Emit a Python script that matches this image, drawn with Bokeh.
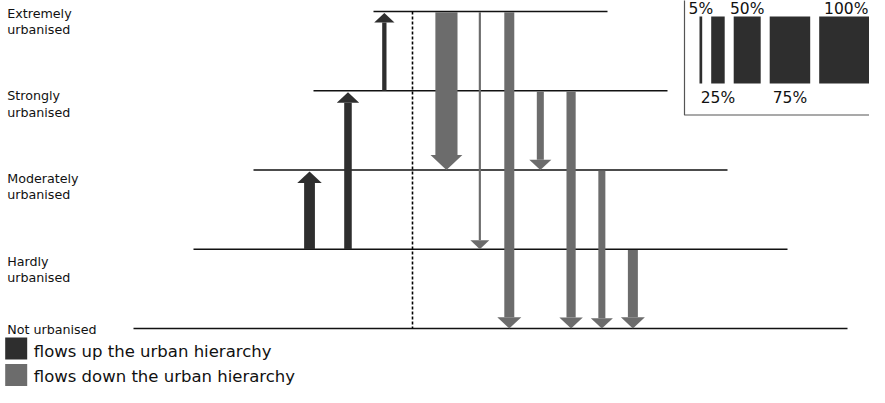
from bokeh.plotting import figure
from bokeh.models import ColumnDataSource, Range1d
from bokeh.embed import file_html
from bokeh.resources import INLINE
from bokeh.core.properties import value

# ---------------- data ----------------
levels = ["Not urbanised", "Hardly urbanised", "Moderately urbanised",
          "Strongly urbanised", "Extremely urbanised"]
# flows up the hierarchy (listed from the divider outward): origin, destination, share %
up_from = [3, 1, 1]
up_to = [4, 3, 2]
up_pct = [8, 14, 20]
# flows down the hierarchy (listed from the divider outward)
down_from = [4, 4, 4, 3, 3, 2, 1]
down_to = [2, 1, 0, 2, 0, 0, 0]
down_pct = [41, 4, 18.5, 13, 17, 13, 18.5]
# width key
scale_pct = [5, 25, 50, 75, 100]
scale_labels = ["5%", "25%", "50%", "75%", "100%"]
legend_labels = ["flows up the urban hierarchy", "flows down the urban hierarchy"]

# ---------------- layout / style ----------------
W, H = 869, 387
UP_COL = "#2e2e2e"
DOWN_COL = "#6c6c6c"
FONT = value("DejaVu Sans")
PX_PER_PCT = 0.54
LEVEL_Y0, LEVEL_STEP = 328.0, 79.25
CENTER_X, HALF_TOP, HALF_STEP = 490.0, 117.0, 60.0
DIVIDER_X = 412.0
GAP_DIV, GAP_UP, GAP_DOWN = 18.0, 15.0, 8.0
BASE_FIX = 0.35  # em correction for the renderer's alphabetic baseline


def level_y(k):
    return LEVEL_Y0 - LEVEL_STEP * k


def head_w(shaft):
    return 0.65 * shaft + 17.5


def fix(ys, size):
    return [y - BASE_FIX * size for y in ys]


p = figure(width=W, height=H, x_range=Range1d(0, W), y_range=Range1d(H, 0),
           output_backend="svg", toolbar_location=None, min_border=0,
           x_axis_location=None, y_axis_location=None)
p.xgrid.grid_line_color = None
p.ygrid.grid_line_color = None
p.outline_line_color = None
p.background_fill_color = "white"
p.border_fill_color = "white"

# level lines
n = len(levels)
lx0, lx1, ly = [], [], []
for k in range(n):
    half = HALF_TOP + HALF_STEP * (n - 1 - k)
    lx0.append(CENTER_X - half)
    lx1.append(CENTER_X + half)
    ly.append(level_y(k))
p.segment(x0=lx0, x1=lx1, y0=ly, y1=ly, line_color="#111111", line_width=1.7)

# divider
p.segment(x0=[DIVIDER_X], x1=[DIVIDER_X], y0=[level_y(n - 1)], y1=[level_y(0)],
          line_color="black", line_width=1.6, line_dash="3 2")


def build_arrows(frm, to, pct, direction):
    left, right, top, bottom, xs, ys = [], [], [], [], [], []
    if direction == "up":
        pos = DIVIDER_X - GAP_DIV
    else:
        pos = DIVIDER_X + GAP_DIV
    for a, b, v in zip(frm, to, pct):
        sw = v * PX_PER_PCT
        hw = head_w(sw)
        hh = hw * 0.47
        if direction == "up":
            c = pos - hw / 2
            pos = c - hw / 2 - GAP_UP
            apex = level_y(b) + 1.5
            base = apex + hh
            s_top, s_bot = base, level_y(a)
        else:
            c = pos + hw / 2
            pos = c + hw / 2 + GAP_DOWN
            apex = level_y(b)
            base = apex - hh
            s_top, s_bot = level_y(a) + 0.8, base
        left.append(c - sw / 2)
        right.append(c + sw / 2)
        top.append(s_top)
        bottom.append(s_bot)
        xs.append([c - hw / 2, c + hw / 2, c])
        ys.append([base, base, apex])
    return (ColumnDataSource(dict(left=left, right=right, top=top, bottom=bottom)),
            ColumnDataSource(dict(xs=xs, ys=ys)))


for frm, to, pct, d, col in [(up_from, up_to, up_pct, "up", UP_COL),
                             (down_from, down_to, down_pct, "down", DOWN_COL)]:
    shafts, heads = build_arrows(frm, to, pct, d)
    p.quad(left="left", right="right", top="top", bottom="bottom", source=shafts,
           fill_color=col, line_color=None)
    p.patches(xs="xs", ys="ys", source=heads, fill_color=col, line_color=None)

# level labels
tx, ty, tt = [], [], []
LABEL_X = 6.7
LABEL_TOP = level_y(n - 1) + 6
LABEL_STEP, LINE_H = 82.7, 16.3
for k, name in enumerate(levels):
    if k == 0:
        tx.append(LABEL_X); ty.append(level_y(0) + 5); tt.append(name)
    else:
        words = name.split(" ")
        yb = LABEL_TOP + LABEL_STEP * (n - 1 - k)
        for j, w in enumerate(words):
            tx.append(LABEL_X); ty.append(yb + j * LINE_H); tt.append(w)
p.text(x=tx, y=fix(ty, 12.7), text=tt, text_font=FONT, text_font_size="12.7px",
       text_color="#111111", text_baseline="alphabetic", text_align="left")

# width key box
p.quad(left=[684], right=[905], top=[-10], bottom=[114.5], fill_color="white",
       line_color="#555555", line_width=1.2)
bl, br, kx, ky = [], [], [], []
pos = 699.0
for i, v in enumerate(scale_pct):
    w = v * PX_PER_PCT
    bl.append(pos); br.append(pos + w)
    kx.append(pos + w / 2)
    ky.append(13.5 if i % 2 == 0 else 103.0)
    pos += w + 9
p.quad(left=bl, right=br, top=[16] * len(bl), bottom=[83] * len(bl),
       fill_color=UP_COL, line_color=None)
p.text(x=kx, y=fix(ky, 15.5), text=scale_labels, text_font=FONT, text_font_size="15.5px",
       text_color="#111111", text_align="center", text_baseline="alphabetic")

# colour legend
sq_top = [337.0, 363.5]
p.quad(left=[4.7, 4.7], right=[26.7, 26.7], top=sq_top, bottom=[t + 22 for t in sq_top],
       fill_color=[UP_COL, DOWN_COL], line_color=None)
p.text(x=[33.3, 33.3], y=fix([356.3, 382.0], 16.5), text=legend_labels, text_font=FONT,
       text_font_size="16.5px", text_color="#111111", text_baseline="alphabetic",
       text_align="left")

open("out.html", "w").write(file_html(p, INLINE))
